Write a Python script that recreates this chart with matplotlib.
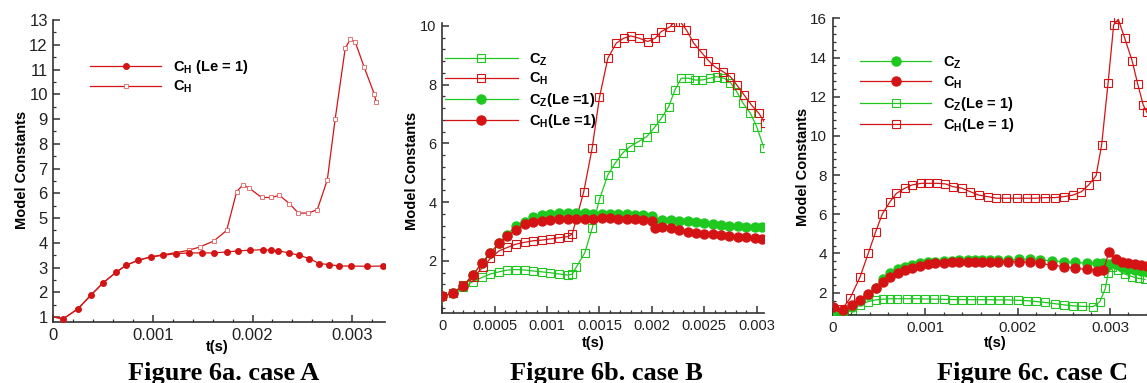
import matplotlib
matplotlib.use("Agg")
import matplotlib.pyplot as plt
from matplotlib.ticker import MultipleLocator, FuncFormatter

# ---- data --------------------------------------------------------------
# case A
tA_le1 = [0, 0.0001, 0.00025, 0.000375, 0.0005, 0.00063, 0.00073, 0.00085, 0.00098,
          0.0011, 0.00123, 0.00136, 0.00149, 0.00161, 0.00174, 0.00185, 0.00197, 0.0021,
          0.00219, 0.00226, 0.00237, 0.00247, 0.00257, 0.00267, 0.00277, 0.00287, 0.00299,
          0.00315, 0.00331]
cH_le1_A = [1.0, 0.93, 1.34, 1.88, 2.38, 2.81, 3.09, 3.29, 3.43, 3.49, 3.56, 3.59, 3.59,
            3.59, 3.63, 3.67, 3.70, 3.72, 3.70, 3.67, 3.59, 3.49, 3.36, 3.16, 3.12, 3.06,
            3.06, 3.05, 3.06]
tA = [0, 0.0001, 0.00025, 0.000375, 0.0005, 0.00063, 0.00073, 0.00085, 0.00098, 0.0011,
      0.00123, 0.00136, 0.00147, 0.00161, 0.00174, 0.00184, 0.0019, 0.00196, 0.00209,
      0.00219, 0.00227, 0.00237, 0.00246, 0.00256, 0.00265, 0.00275, 0.00283, 0.00293,
      0.00298, 0.00303, 0.00312, 0.00322, 0.00324]
cH_A = [1.0, 0.93, 1.34, 1.88, 2.38, 2.81, 3.09, 3.29, 3.43, 3.52, 3.6, 3.7, 3.83, 4.07,
        4.5, 6.06, 6.33, 6.23, 5.83, 5.83, 5.92, 5.58, 5.2, 5.2, 5.34, 6.53, 9.02, 11.85,
        12.22, 12.12, 11.1, 10.03, 9.7]

# case B
tB_cz = [0, 0.0001, 0.0002, 0.00029, 0.00038, 0.00046, 0.00054, 0.00062, 0.0007, 0.00079,
         0.00087, 0.00095, 0.00103, 0.00111, 0.0012, 0.00124, 0.00128, 0.00136, 0.00143,
         0.0015, 0.00158, 0.00165, 0.00172, 0.00179, 0.00187, 0.00195, 0.00202, 0.00209,
         0.00216, 0.00222, 0.00228, 0.00235, 0.00241, 0.00248, 0.00255, 0.00262, 0.00269,
         0.00275, 0.00281, 0.00287, 0.00294, 0.003, 0.00307]
cZ_B = [0.81, 0.90, 1.10, 1.30, 1.44, 1.56, 1.63, 1.69, 1.71, 1.69, 1.66, 1.63, 1.60, 1.56,
        1.52, 1.55, 1.80, 2.28, 3.11, 4.10, 4.93, 5.33, 5.67, 5.89, 6.06, 6.23, 6.52, 6.86,
        7.25, 7.82, 8.22, 8.22, 8.16, 8.16, 8.22, 8.27, 8.22, 8.07, 7.76, 7.37, 7.03, 6.57,
        5.84]
tB_ch = [0, 0.0001, 0.0002, 0.0003, 0.00039, 0.00046, 0.00054, 0.00062, 0.0007, 0.00079,
         0.00087, 0.00095, 0.00103, 0.00111, 0.0012, 0.00124, 0.00135, 0.00143, 0.0015,
         0.00158, 0.00166, 0.00173, 0.0018, 0.00188, 0.00196, 0.00203, 0.00209, 0.00217,
         0.00222, 0.00227, 0.00233, 0.0024, 0.00248, 0.00254, 0.0026, 0.00268, 0.00275,
         0.00281, 0.00288, 0.00295, 0.00302, 0.00308]
cH_B = [0.81, 0.90, 1.18, 1.46, 1.80, 2.09, 2.34, 2.46, 2.57, 2.64, 2.69, 2.71, 2.75, 2.79,
        2.83, 2.92, 4.36, 5.84, 7.57, 8.90, 9.41, 9.58, 9.66, 9.58, 9.47, 9.58, 9.81, 9.96,
        10.15, 10.15, 9.86, 9.41, 9.07, 8.82, 8.61, 8.44, 8.27, 7.99, 7.65, 7.31, 7.03, 6.69]
tB_le1 = [0, 0.0001, 0.0002, 0.00029, 0.00038, 0.00046, 0.00054, 0.00062, 0.0007, 0.00079,
          0.00087, 0.00095, 0.00103, 0.00111, 0.0012, 0.00128, 0.00136, 0.00144, 0.00152,
          0.0016, 0.00168, 0.00176, 0.00184, 0.00192, 0.002, 0.00203, 0.0021, 0.00218,
          0.00226, 0.00234, 0.00242, 0.0025, 0.00258, 0.00266, 0.00274, 0.00282, 0.0029,
          0.00298, 0.00305]
cZ_le1_B = [0.81, 0.90, 1.16, 1.52, 1.94, 2.28, 2.60, 2.90, 3.19, 3.34, 3.49, 3.55, 3.60,
            3.62, 3.62, 3.62, 3.62, 3.61, 3.60, 3.60, 3.60, 3.59, 3.58, 3.56, 3.53, 3.34,
            3.39, 3.39, 3.37, 3.35, 3.32, 3.28, 3.25, 3.22, 3.20, 3.19, 3.17, 3.16, 3.15]
cH_le1_B = [0.81, 0.90, 1.16, 1.52, 1.94, 2.28, 2.60, 2.85, 3.05, 3.25, 3.33, 3.37, 3.39,
            3.42, 3.42, 3.42, 3.43, 3.44, 3.45, 3.45, 3.44, 3.43, 3.42, 3.40, 3.37, 3.11,
            3.16, 3.13, 3.06, 3.00, 2.95, 2.92, 2.91, 2.89, 2.86, 2.83, 2.81, 2.78, 2.75]

# case C
tC = [0, 0.000108, 0.000205, 0.000295, 0.000379, 0.000465, 0.000548, 0.00062, 0.000703,
      0.00078, 0.00086, 0.000945, 0.00103, 0.00111, 0.0012, 0.00129, 0.00137, 0.00146,
      0.00154, 0.00162, 0.0017, 0.00179, 0.0019, 0.00202, 0.00214, 0.00224, 0.00237,
      0.0025, 0.00262, 0.00275, 0.00286, 0.00293, 0.00299, 0.00306, 0.00313, 0.0032,
      0.00327, 0.00334, 0.0034]
cZ_C = [0.86, 1.03, 1.26, 1.55, 1.88, 2.25, 2.68, 2.99, 3.19, 3.33, 3.41, 3.50, 3.55, 3.58,
        3.63, 3.64, 3.65, 3.66, 3.67, 3.67, 3.68, 3.67, 3.68, 3.70, 3.70, 3.67, 3.63, 3.58,
        3.55, 3.50, 3.50, 3.50, 3.45, 3.45, 3.30, 3.20, 3.15, 3.10, 3.08]
cH_C = [1.26, 1.12, 1.37, 1.63, 1.93, 2.22, 2.56, 2.82, 3.02, 3.16, 3.28, 3.38, 3.45, 3.50,
        3.53, 3.55, 3.55, 3.56, 3.57, 3.57, 3.58, 3.58, 3.58, 3.58, 3.55, 3.50, 3.41, 3.33,
        3.24, 3.19, 3.12, 3.16, 4.09, 3.70, 3.58, 3.50, 3.45, 3.41, 3.36]
tC_cz_le1 = [0, 0.000108, 0.000205, 0.000295, 0.000379, 0.000465, 0.000548, 0.00062, 0.0007,
             0.0008, 0.0009, 0.001, 0.0011, 0.0012, 0.0013, 0.0014, 0.0015, 0.0016, 0.0017,
             0.0018, 0.0019, 0.002, 0.0021, 0.0022, 0.0023, 0.0024, 0.0025, 0.0026, 0.0027,
             0.00282, 0.00289, 0.00295, 0.00298, 0.00302, 0.00309, 0.00316, 0.00324, 0.00331,
             0.00338]
cZ_le1_C = [0.78, 0.86, 1.12, 1.37, 1.54, 1.63, 1.67, 1.69, 1.69, 1.69, 1.69, 1.68, 1.67,
            1.66, 1.65, 1.65, 1.64, 1.64, 1.64, 1.63, 1.63, 1.61, 1.59, 1.55, 1.50, 1.44,
            1.38, 1.33, 1.30, 1.29, 1.54, 2.22, 2.99, 3.33, 3.16, 2.95, 2.82, 2.73, 2.68]
tC_ch_le1 = [0, 0.0001, 0.000187, 0.000295, 0.000385, 0.000465, 0.000537, 0.00062, 0.00069,
             0.00078, 0.00086, 0.00096, 0.00103, 0.00113, 0.00122, 0.0013, 0.0014, 0.00149,
             0.00158, 0.00168, 0.00177, 0.00188, 0.00199, 0.0021, 0.00219, 0.0023, 0.0024,
             0.0025, 0.0026, 0.00269, 0.00277, 0.00285, 0.00291, 0.00298, 0.00304, 0.00309,
             0.00316, 0.00324, 0.0033, 0.00336, 0.0034]
cH_le1_C = [1.2, 1.15, 1.71, 2.79, 4.01, 5.11, 6.02, 6.64, 7.07, 7.33, 7.50, 7.58, 7.58,
            7.58, 7.55, 7.41, 7.33, 7.15, 6.98, 6.90, 6.82, 6.82, 6.82, 6.82, 6.82, 6.85,
            6.85, 6.90, 6.98, 7.15, 7.50, 7.97, 9.54, 12.72, 15.66, 15.95, 14.98, 13.83,
            12.65, 11.58, 11.2]

captions = ["Figure 6a. case A", "Figure 6b. case B", "Figure 6c. case C"]

RED = "#d41414"
GREEN = "#1fc81f"

plt.rcParams["font.family"] = ["Liberation Sans", "DejaVu Sans"]
plt.rcParams["mathtext.fontset"] = "custom"
plt.rcParams["mathtext.rm"] = "Liberation Sans:bold"
plt.rcParams["mathtext.bf"] = "Liberation Sans:bold"


def fmt(v, pos=None):
    return f"{v:g}"


def style_axes(ax, xmaj, xmin, ymaj, ymin, fs):
    for s in ["top", "right"]:
        ax.spines[s].set_visible(False)
    for s in ["left", "bottom"]:
        ax.spines[s].set_linewidth(1.2)
        ax.spines[s].set_color("#333333")
    ax.xaxis.set_major_locator(MultipleLocator(xmaj))
    ax.xaxis.set_minor_locator(MultipleLocator(xmin))
    ax.yaxis.set_major_locator(MultipleLocator(ymaj))
    ax.yaxis.set_minor_locator(MultipleLocator(ymin))
    ax.xaxis.set_major_formatter(FuncFormatter(fmt))
    ax.yaxis.set_major_formatter(FuncFormatter(fmt))
    ax.tick_params(which="major", direction="in", length=5, width=1.1, labelsize=fs,
                   color="#333333", labelcolor="#222222", pad=4)
    ax.tick_params(which="minor", direction="in", length=2.5, width=0.9, color="#333333")


def labels(ax, xl, yl, tx, ty):
    ax.text(xl, yl, "Model Constants", transform=ax.transAxes, rotation=90, ha="center",
            va="center", fontsize=10.5, fontweight="bold")
    ax.text(tx, ty, "t(s)", transform=ax.transAxes, ha="center", va="center",
            fontsize=10.5, fontweight="bold")


fig = plt.figure(figsize=(11.47, 3.83), dpi=100)
axA = fig.add_axes([0.0465, 0.1593, 0.2892, 0.7885])
axB = fig.add_axes([0.3856, 0.182, 0.2805, 0.7572])
axC = fig.add_axes([0.726, 0.1775, 0.282, 0.7747])

# ---- case A -------------------------------------------------------------
h1, = axA.plot(tA_le1, cH_le1_A, color=RED, lw=0.9, marker="o", ms=4, mfc=RED, mec=RED,
               markevery=slice(1, None), zorder=3)
h2, = axA.plot(tA, cH_A, color=RED, lw=0.9, marker="s", ms=3, mfc="white", mec="#e06060",
               mew=0.6, markevery=slice(1, None), zorder=2)
axA.set_xlim(0, 0.00333)
axA.set_ylim(0.8, 13)
style_axes(axA, 0.001, 0.0002, 1, 0.5, 12)
labels(axA, -0.094, 0.503, 0.493, -0.083)
axA.legend([h1, h2], [r"C$_\mathregular{H}$ (Le = 1)", r"C$_\mathregular{H}$"],
           loc="upper left", bbox_to_anchor=(0.11, 0.875), frameon=False,
           handlelength=4.9, handletextpad=0.8, labelspacing=0.2, borderpad=0,
           borderaxespad=0, numpoints=1, prop={"weight": "bold", "size": 10.5})

# ---- case B -------------------------------------------------------------
g1, = axB.plot(tB_cz, cZ_B, color=GREEN, lw=0.9, marker="s", ms=5.5, mfc="none",
               mec=GREEN, mew=0.8, zorder=2)
g2, = axB.plot(tB_ch, cH_B, color=RED, lw=0.9, marker="s", ms=5.5, mfc="none",
               mec=RED, mew=0.8, zorder=2)
g3, = axB.plot(tB_le1, cZ_le1_B, color=GREEN, lw=0.9, marker="o", ms=6.5, mfc=GREEN,
               mec=GREEN, zorder=3)
g4, = axB.plot(tB_le1, cH_le1_B, color=RED, lw=0.9, marker="o", ms=6.5, mfc=RED,
               mec=RED, zorder=4)
axB.set_xlim(0, 0.00307)
axB.set_ylim(0.22, 10.09)
style_axes(axB, 0.0005, 0.0001, 2, 0.4, 10.5)
labels(axB, -0.095, 0.49, 0.469, -0.102)
axB.legend([g1, g2, g3, g4],
           [r"C$_\mathregular{Z}$", r"C$_\mathregular{H}$", r"C$_\mathregular{Z}$(Le =1)",
            r"C$_\mathregular{H}$(Le =1)"],
           loc="upper left", bbox_to_anchor=(0.008, 0.905), frameon=False,
           handlelength=5.0, handletextpad=0.8, labelspacing=0.22, borderpad=0,
           borderaxespad=0, numpoints=1, prop={"weight": "bold", "size": 10.5})

# ---- case C -------------------------------------------------------------
k3, = axC.plot(tC_cz_le1, cZ_le1_C, color=GREEN, lw=0.9, marker="s", ms=5.5, mfc="none",
               mec=GREEN, mew=0.8, zorder=2)
k4, = axC.plot(tC_ch_le1, cH_le1_C, color=RED, lw=0.9, marker="s", ms=5.5, mfc="none",
               mec=RED, mew=0.8, zorder=2)
k1, = axC.plot(tC, cZ_C, color=GREEN, lw=0.9, marker="o", ms=6.5, mfc=GREEN, mec=GREEN,
               zorder=3)
k2, = axC.plot(tC, cH_C, color=RED, lw=0.9, marker="o", ms=6.5, mfc=RED, mec=RED, zorder=4)
axC.set_xlim(0, 0.0035)
axC.set_ylim(0.86, 16)
style_axes(axC, 0.001, 0.0002, 2, 0.4, 11)
labels(axC, -0.091, 0.5, 0.502, -0.094)
axC.legend([k1, k2, k3, k4],
           [r"C$_\mathregular{Z}$", r"C$_\mathregular{H}$", r"C$_\mathregular{Z}$(Le = 1)",
            r"C$_\mathregular{H}$(Le = 1)"],
           loc="upper left", bbox_to_anchor=(0.084, 0.88), frameon=False,
           handlelength=4.9, handletextpad=0.8, labelspacing=0.25, borderpad=0,
           borderaxespad=0, numpoints=1, prop={"weight": "bold", "size": 10.5})

for x, cap in zip([0.195, 0.529, 0.9], captions):
    fig.text(x, 0.008, cap, ha="center", va="baseline", fontsize=19, fontweight="bold",
             family=["Liberation Serif", "DejaVu Serif"])

fig.savefig("out.png", dpi=100)
